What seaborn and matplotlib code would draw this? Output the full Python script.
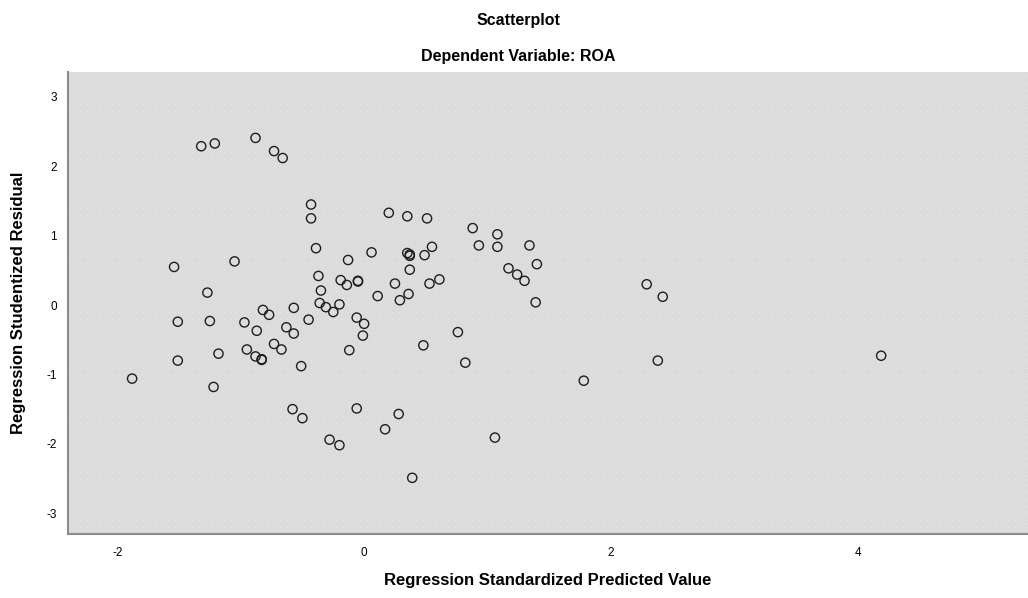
import numpy as np
import pandas as pd
import seaborn as sns
import matplotlib.pyplot as plt

# standardized predicted value vs studentized residual
pred = [-1.32, -1.21, -0.88, -0.73, -0.66, -0.43, -0.43, -0.39, 0.20, 0.35,
        0.51, 0.88, 1.08, 0.93, 1.08, 1.34, 1.40, 1.17, 1.24, 1.30,
        1.39, 2.29, 2.42, -1.54, -1.05, -0.13, 0.06, -0.37, -0.35, -0.19,
        -0.14, -0.05, -0.05, -1.27, 0.11, 0.25, 0.35, 0.37, 0.37, 0.49,
        0.55, 0.37, 0.61, 0.53, 0.36, 0.29, -0.36, -0.31, -0.25, -0.20,
        -0.57, -0.82, -0.77, -1.51, -1.25, -0.97, -0.87, -0.63, -0.57, -0.45,
        -0.06, 0.00, -0.01, -0.12, -1.51, -1.18, -0.95, -0.88, -0.83, -0.83,
        -0.73, -0.67, -0.51, -1.88, -1.22, -0.58, -0.50, -0.06, 0.17, 0.28,
        -0.28, -0.20, 0.76, 0.48, 0.82, 1.78, 2.38, 1.06, 0.39, 4.19]
resid = [2.29, 2.33, 2.41, 2.22, 2.12, 1.45, 1.25, 0.82, 1.33, 1.28,
         1.25, 1.11, 1.02, 0.86, 0.84, 0.86, 0.59, 0.53, 0.44, 0.35,
         0.04, 0.30, 0.12, 0.55, 0.63, 0.65, 0.76, 0.42, 0.21, 0.36,
         0.29, 0.35, 0.34, 0.18, 0.13, 0.31, 0.75, 0.73, 0.71, 0.72,
         0.84, 0.51, 0.37, 0.31, 0.16, 0.07, 0.03, -0.03, -0.10, 0.01,
         -0.04, -0.07, -0.14, -0.24, -0.23, -0.25, -0.37, -0.32, -0.41, -0.21,
         -0.18, -0.27, -0.44, -0.65, -0.80, -0.70, -0.64, -0.74, -0.78, -0.79,
         -0.56, -0.64, -0.88, -1.06, -1.18, -1.50, -1.63, -1.49, -1.79, -1.57,
         -1.94, -2.02, -0.39, -0.58, -0.83, -1.09, -0.80, -1.91, -2.49, -0.73]

xticks = [-2, 0, 2, 4]
yticks = [-3, -2, -1, 0, 1, 2, 3]

df = pd.DataFrame({"pred": pred, "resid": resid})

sns.set_style("white")
plt.rcParams['font.family'] = ['Liberation Sans', 'DejaVu Sans']
plt.rcParams['axes.unicode_minus'] = False
plt.rcParams['text.color'] = 'black'
plt.rcParams['axes.labelcolor'] = 'black'

fig = plt.figure(figsize=(10.28, 5.98), dpi=100)
ax = fig.add_axes([0.0661, 0.107, 0.9339, 0.7726])
ax.set_facecolor('#dcdcdc')

# faint dotted texture like the SPSS background
for yy in np.arange(-3.3, 3.4, 0.1):
    ax.axhline(yy, color='white', lw=0.8, ls=(0, (0.6, 5)), alpha=0.55, zorder=0)

sns.scatterplot(data=df, x="pred", y="resid", ax=ax, marker='o', s=44,
                facecolor='none', edgecolor='#1e1e1e', linewidth=1.0, zorder=3)

ax.set_xlim(-2.40, 5.38)
ax.set_ylim(-3.30, 3.36)
ax.set_xticks(xticks)
ax.set_yticks(yticks)
ax.tick_params(axis='both', length=0, labelsize=8.5, colors='black')
ax.tick_params(axis='x', pad=9)
ax.tick_params(axis='y', pad=8)

for side in ['top', 'right']:
    ax.spines[side].set_visible(False)
for side in ['left', 'bottom']:
    ax.spines[side].set_color('#8c8c8c')
    ax.spines[side].set_linewidth(1.5)

ax.set_xlabel('Regression Standardized Predicted Value', fontsize=12,
              fontweight='bold', va='center')
ax.set_ylabel('Regression Studentized Residual', fontsize=12,
              fontweight='bold', va='center')
ax.xaxis.set_label_coords(0.5, -0.0996)
ax.yaxis.set_label_coords(-0.052, 0.5)

fig.text(0.504, 1 - 20 / 598, 'Scatterplot', ha='center', va='center',
         fontsize=11.5, fontweight='bold')
fig.text(0.504, 1 - 57 / 598, 'Dependent Variable: ROA', ha='center',
         va='center', fontsize=11.5, fontweight='bold')

plt.savefig('out.png', dpi=100)
